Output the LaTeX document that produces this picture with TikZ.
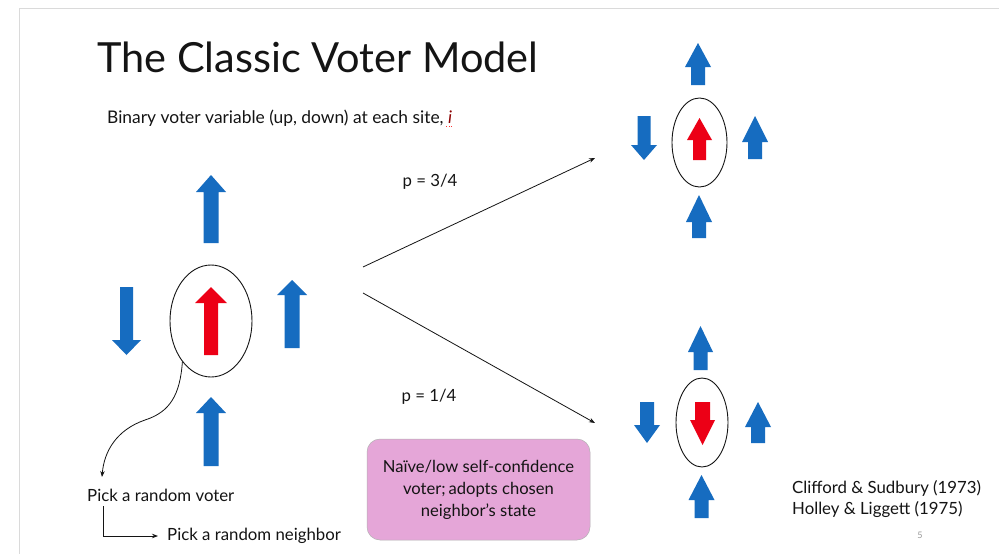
\documentclass[tikz,border=0pt]{standalone}
\usepackage{fontspec}
\setmainfont{Lato}
\usetikzlibrary{shapes.geometric,arrows.meta}

\definecolor{spinblue}{RGB}{22,108,192}
\definecolor{spinred}{RGB}{236,0,22}
\definecolor{boxpink}{RGB}{229,166,216}
\definecolor{inkgray}{RGB}{20,20,20}
\definecolor{framegray}{RGB}{218,218,218}

% block arrow: style, centre x, tip y, head-base y, tail y, head half-width, shaft half-width
\newcommand{\blockarrow}[7]{%
  \fill[#1] ({#2-#7},#5) -- ({#2-#7},#4) -- ({#2-#6},#4) -- (#2,#3)
    -- ({#2+#6},#4) -- ({#2+#7},#4) -- ({#2+#7},#5) -- cycle;}

\tikzset{
  site/.style={ellipse, draw=inkgray, line width=0.9pt, inner sep=0pt},
  body/.style={text=inkgray, inner sep=0pt, font=\fontsize{16.8}{19}\selectfont},
  conn/.style={draw=inkgray, line width=0.8pt, -{Stealth[length=6pt,width=4.5pt]}},
  upblue/.style={fill=spinblue},
  upred/.style={fill=spinred},
  notebox/.style={rounded corners=13pt, fill=boxpink, draw=gray!60, line width=0.5pt,
    minimum width=223pt, minimum height=101pt, align=center, text=inkgray,
    font=\fontsize{16.6}{22}\selectfont}
}

\begin{document}
\begin{tikzpicture}[x=1pt,y=-1pt]
\useasboundingbox (0,0) rectangle (999,554);
\fill[white] (0,0) rectangle (999,554);
% slide frame
\draw[framegray, line width=1.2pt] (999,8.5) -- (19.5,8.5) -- (19.5,554);

% headings
\node[anchor=base west, inner sep=0pt, text=inkgray, font=\fontsize{41.5}{48}\selectfont] (title) at (97,72) {The Classic Voter Model};
\node[body, anchor=base west, font=\fontsize{17.4}{20}\selectfont] (sub) at (107,123) {Binary voter variable (up, down) at each site, \textcolor{red!55!black}{\textit{i}}};
\draw[red!80, line width=0.6pt, dotted] ([xshift=-6pt,yshift=-3pt]sub.base east) -- ([yshift=-3pt]sub.base east);

% chosen voter with its four neighbours
\node[site, minimum width=82pt, minimum height=112pt] (e0) at (211,321) {};
\blockarrow{upred}{211}{287}{303}{355}{16}{7}
\blockarrow{upblue}{211}{175}{192}{243}{15}{7.5}
\blockarrow{upblue}{126.5}{355}{340}{287}{14.5}{6.5}
\blockarrow{upblue}{292}{280}{295}{348}{15}{7.5}
\blockarrow{upblue}{211}{397}{413}{466}{15}{7.5}

% outcome: voter copies an up neighbour
\node[site, minimum width=55pt, minimum height=89pt] (e1) at (699.5,142.5) {};
\blockarrow{upred}{699.5}{118}{140}{160}{12.5}{6.5}
\blockarrow{upblue}{698}{43}{67}{85}{13}{7}
\blockarrow{upblue}{644}{160}{145}{116}{13}{6.5}
\blockarrow{upblue}{755}{116}{142}{159}{13}{7}
\blockarrow{upblue}{699}{195}{222}{238}{13}{7}

% outcome: voter copies the down neighbour
\node[site, minimum width=52pt, minimum height=89pt] (e2) at (702,422.5) {};
\blockarrow{upred}{702.5}{445}{420}{402}{12.5}{7.5}
\blockarrow{upblue}{700.5}{326}{352}{370}{12.5}{7}
\blockarrow{upblue}{647}{443}{425}{402}{13}{7}
\blockarrow{upblue}{758}{402}{427}{443}{13}{7}
\blockarrow{upblue}{701.5}{475}{500}{518}{13}{7}

% transitions
\coordinate (up0) at (363,267);
\coordinate (up1) at (595,158);
\coordinate (dn0) at (363,293);
\coordinate (dn1) at (595,423);
\draw[conn] (up0) -- (up1);
\draw[conn] (dn0) -- (dn1);
\node[body] (p34) at (430,182) {p = 3/4};
\node[body] (p14) at (429,397) {p = 1/4};

% update rule
\node[body, anchor=west] (pv) at (87,495) {Pick a random voter};
\node[body, anchor=west] (pn) at (167,536) {Pick a random neighbor};
\coordinate (pvtop) at (102,477);
\draw[conn] (e0.235) .. controls (180,395) and (170,412) .. (145,420)
  .. controls (116,430) and (104,452) .. (pvtop);
\draw[conn] ([xshift=16pt,yshift=-5pt]pv.south west) |- ([xshift=-9pt]pn.west);

\node[notebox] (note) at (478.5,489.5) {Naïve/low self-confidence\\voter;\,adopts chosen\\neighbor’s state};

% references and page number
\node[body, anchor=west] (ref1) at (792,488) {Clifford \& Sudbury (1973)};
\node[body, anchor=west] (ref2) at (792,510) {Holley \& Liggett (1975)};
\node[text=gray!80, inner sep=0pt, font=\fontsize{9}{10}\selectfont] (pg) at (920,535) {5};
\end{tikzpicture}
\end{document}
